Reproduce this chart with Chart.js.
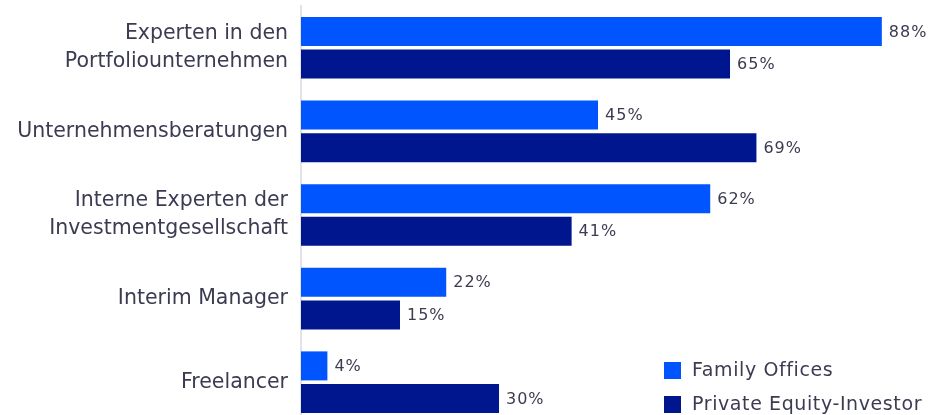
<!DOCTYPE html>
<html lang="de">
<head>
    <meta charset="UTF-8">
    <title>Eingesetzte Experten</title>
    <script src="https://cdn.jsdelivr.net/npm/chart.js"></script>
    <style>
        html, body { margin: 0; padding: 0; background: #fff; overflow: hidden; }
        #wrap { position: relative; width: 932px; height: 424px; }
    </style>
</head>
<body>
    <div id="wrap"><canvas id="expertChart"></canvas></div>
    <script>
        const categories = [
            ['Experten in den', 'Portfoliounternehmen'],
            'Unternehmensberatungen',
            ['Interne Experten der', 'Investmentgesellschaft'],
            'Interim Manager',
            'Freelancer'
        ];
        const familyOffices = [88, 45, 62, 22, 4];
        const privateEquity = [65, 69, 41, 15, 30];
        const seriesNames = ['Family Offices', 'Private Equity-Investor'];

        const textColor = '#3b3b52';
        const fontFamily = '"DejaVu Sans", sans-serif';

        // percentage next to the end of every bar
        const valueLabels = {
            id: 'valueLabels',
            afterDatasetsDraw(chart) {
                const ctx = chart.ctx;
                ctx.save();
                ctx.font = '16px ' + fontFamily;
                ctx.letterSpacing = '1px';
                ctx.fillStyle = textColor;
                ctx.textAlign = 'left';
                ctx.textBaseline = 'middle';
                chart.data.datasets.forEach((ds, i) => {
                    chart.getDatasetMeta(i).data.forEach((bar, j) => {
                        ctx.fillText(ds.data[j] + '%', bar.x + 7, bar.y + 1);
                    });
                });
                ctx.restore();
            }
        };

        // legend in the lower right corner of the plot
        const cornerLegend = {
            id: 'cornerLegend',
            afterDraw(chart) {
                const ctx = chart.ctx;
                ctx.save();
                ctx.font = '19px ' + fontFamily;
                ctx.letterSpacing = '0.6px';
                ctx.textBaseline = 'middle';
                chart.data.datasets.forEach((ds, i) => {
                    const y = 370 + i * 34;
                    ctx.fillStyle = ds.backgroundColor;
                    ctx.fillRect(664, y - 8, 17, 17);
                    ctx.fillStyle = textColor;
                    ctx.fillText(ds.label, 692, y + 1);
                });
                ctx.restore();
            }
        };

        new Chart(document.getElementById('expertChart'), {
            type: 'bar',
            data: {
                labels: categories,
                datasets: [{
                    label: seriesNames[0],
                    data: familyOffices,
                    backgroundColor: '#0055ff',
                    categoryPercentage: 0.78,
                    barPercentage: 0.89
                }, {
                    label: seriesNames[1],
                    data: privateEquity,
                    backgroundColor: '#00168f',
                    categoryPercentage: 0.78,
                    barPercentage: 0.89
                }]
            },
            options: {
                indexAxis: 'y',
                responsive: true,
                maintainAspectRatio: false,
                animation: false,
                layout: { padding: { top: 6, right: 0, bottom: 0, left: 0 } },
                plugins: {
                    legend: { display: false },
                    tooltip: { enabled: false }
                },
                scales: {
                    x: {
                        display: false,
                        min: 0,
                        max: 95.6
                    },
                    y: {
                        afterFit(scale) {
                            scale.width = 301;
                            scale.paddingTop = 0;
                            scale.paddingBottom = 0;
                        },
                        grid: { display: false, drawTicks: false },
                        border: { display: true, color: '#e2e2e8', width: 2 },
                        ticks: {
                            color: textColor,
                            padding: 13,
                            font: { family: fontFamily, size: 20.5, lineHeight: 1.38 }
                        }
                    }
                }
            },
            plugins: [valueLabels, cornerLegend]
        });
    </script>
</body>
</html>
